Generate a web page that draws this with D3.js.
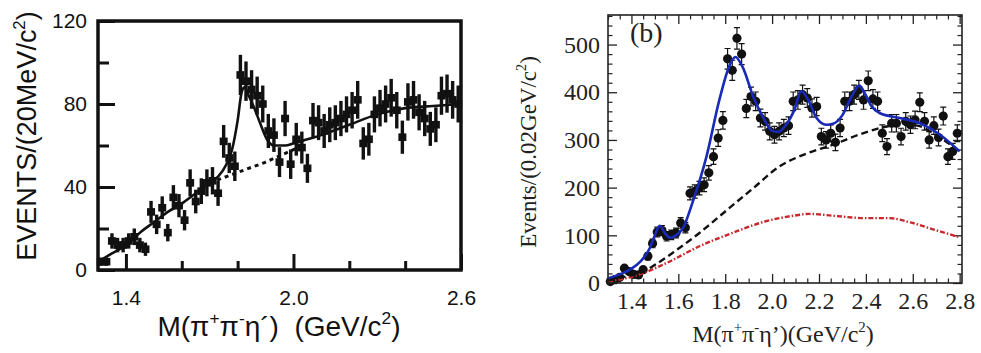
<!DOCTYPE html>
<html>
<head>
<meta charset="utf-8">
<script src="https://cdn.jsdelivr.net/npm/d3@7"></script>
<style>
  body { margin: 0; background: #fff; }
  svg { display: block; }
  text { white-space: pre; }
</style>
</head>
<body>
<div id="chart"></div>
<script>
// ---- panel (a): 20 MeV bins, first bin centre 1.31 ----
const binStartA = 1.31, binWidthA = 0.02;
const eventsA = [4,4,14,12,12,14,16,12,10,28, 22,30,18,35,31,24,42,33,38,42,
                 43,37,62,54,50,94,91,87,84,80, 67,65,52,73,51,63,59,49,72,71,
                 67,70,71,73,75,77,82,61,63,75, 78,80,83,77,64,81,82,76,73,68,
                 70,84,85,82,80];
const errorsA = [2,2,3.7,3.5,3.5,3.7,4,3.5,3.2,5.3, 4.7,5.5,4.2,5.9,5.6,4.9,6.5,5.7,6.2,6.5,
                 6.6,6.1,7.9,7.3,7.1,9.7,9.5,9.3,9.2,8.9, 8.2,8.1,7.2,8.5,7.1,7.9,7.7,7,8.5,8.4,
                 8.2,8.4,8.4,8.5,8.7,8.8,9.1,7.8,7.9,8.7, 8.8,8.9,9.1,8.8,8,9,9.1,8.7,8.5,8.2,
                 8.4,9.2,9.2,9.1,8.9];
// fit (solid) and background (dotted)
const fitMassA = [1.30,1.35,1.40,1.45,1.50,1.55,1.60,1.65,1.70,1.73,1.76,1.78,1.80,1.815,1.825,1.84,1.86,1.88,1.905,1.93,1.97,2.0,2.05,2.1,2.2,2.3,2.4,2.5,2.6];
const fitValA  = [4,8,12,18,23,28,32,37,42,45,51,58,72,86,88,84,78,71,63,60,60,61,63,65,70,75,78,79,80];
const bkgMassA = [1.70,1.75,1.80,1.85,1.90,1.95,2.00,2.03];
const bkgValA  = [42,44.5,47,49.5,52,55,58,60];
const xTicksA = [1.4, 2.0, 2.6], xMinorA = [1.6, 1.8, 2.2, 2.4];
const yTicksA = [0, 40, 80, 120], yMinorA = [20, 60, 100];

// ---- panel (b): 0.02 GeV bins, first bin centre 1.31 ----
const binStartB = 1.31, binWidthB = 0.02;
const eventsB = [3,7,12,31,24,18,17,28,56,83, 107,110,98,101,105,126,116,188,192,199,
                 206,231,265,304,341,470,446,513,480,366, 391,381,346,339,318,311,318,325,330,381,
                 384,395,388,367,370,307,300,314,295,325, 381,381,395,405,384,424,386,381,314,286,
                 335,335,307,339,332,342,379,339,300,330, 305,350,265,276,314];
const errorsB = [2,3,3.5,5.6,4.9,4.2,4.1,5.3,7.5,9.1, 10.3,10.5,9.9,10,10.2,11.2,10.8,13.7,13.9,14.1,
                 14.4,15.2,16.3,17.4,18.5,21.7,21.1,22.6,21.9,19.1, 19.8,19.5,18.6,18.4,17.8,17.6,17.8,18,18.2,19.5,
                 19.6,19.9,19.7,19.2,19.2,17.5,17.3,17.7,17.2,18, 19.5,19.5,19.9,20.1,19.6,20.6,19.6,19.5,17.7,16.9,
                 18.3,18.3,17.5,18.4,18.2,18.5,19.5,18.4,17.3,18.2, 17.5,18.7,16.3,16.6,17.7];
const fitMassB = [1.30,1.35,1.40,1.44,1.46,1.48,1.50,1.52,1.545,1.565,1.59,1.62,1.66,1.72,1.775,1.82,1.843,1.875,1.92,1.96,2.0,2.025,2.06,2.095,2.125,2.155,2.19,2.23,2.26,2.30,2.34,2.372,2.395,2.425,2.46,2.545,2.63,2.716,2.80];
const fitValB  = [10,18,30,46,58,75,100,120,103,95,100,115,168,265,384,458,474,452,390,349,319,317,332,363,402,383,346,332,334,352,392,414,398,370,356,346,335,311,276];
const bkgMassB = [1.30,1.36,1.40,1.45,1.50,1.575,1.69,1.80,1.92,2.03,2.15,2.26,2.37,2.47,2.55,2.62,2.70,2.80];
const bkgValB  = [5,12,16,24,38,63,105,150,199,244,272,290,311,326,332,330,310,276];
const redMassB = [1.30,1.43,1.55,1.69,1.83,1.97,2.09,2.16,2.26,2.40,2.50,2.59,2.69,2.80];
const redValB  = [3,17,42,77,105,129,141,145,141,136,136,127,112,96];
const xTicksB = [1.4,1.6,1.8,2.0,2.2,2.4,2.6,2.8];
const yTicksB = [0,100,200,300,400,500];

const svg = d3.select("#chart").append("svg")
    .attr("width", 981).attr("height", 353);

// text with superscripts, parts = [[string, "sup" or ""], ...]
function richText(sel, parts, fs) {
    let shift = 0;
    parts.forEach(([t, kind]) => {
        const target = kind === "sup" ? -fs * 0.42 : 0;
        sel.append("tspan")
            .attr("dy", target - shift)
            .style("font-size", (kind === "sup" ? fs * 0.62 : fs) + "px")
            .text(t);
        shift = target;
    });
}

function styleAxis(g, w, color, font, fs) {
    g.select(".domain").remove();
    g.selectAll(".tick line").attr("stroke", color).attr("stroke-width", w);
    g.selectAll("text").style("font-family", font).style("font-size", fs + "px").attr("fill", color);
}

// ================= panel (a) =================
const sansFont = "'Liberation Sans', Arial, Helvetica, sans-serif";
const xA = d3.scaleLinear().domain([1.3, 2.6]).range([98, 461]);
const yA = d3.scaleLinear().domain([0, 120]).range([270, 21]);
const gA = svg.append("g");

gA.append("g").attr("transform", "translate(0,270)")
    .call(d3.axisBottom(xA).tickValues(xTicksA).tickSize(-16).tickPadding(20).tickFormat(d3.format(".1f")))
    .call(g => styleAxis(g, 3, "#111", sansFont, 21));
gA.append("g").attr("transform", "translate(0,270)")
    .call(d3.axisBottom(xA).tickValues(xMinorA).tickSize(-9).tickFormat(""))
    .call(g => styleAxis(g, 3, "#111", sansFont, 21));
gA.append("g").attr("transform", "translate(98,0)")
    .call(d3.axisLeft(yA).tickValues(yTicksA).tickSize(-17).tickPadding(11))
    .call(g => styleAxis(g, 3, "#111", sansFont, 21));
gA.append("g").attr("transform", "translate(98,0)")
    .call(d3.axisLeft(yA).tickValues(yMinorA).tickSize(-11).tickFormat(""))
    .call(g => styleAxis(g, 3, "#111", sansFont, 21));

const dataA = eventsA.map((v, i) => ({ m: binStartA + i * binWidthA, v: v, e: errorsA[i] }));

// curves
const lineA = d3.line().x(d => xA(d[0])).y(d => yA(d[1])).curve(d3.curveMonotoneX);
gA.append("path").datum(bkgMassA.map((m, i) => [m, bkgValA[i]]))
    .attr("d", lineA).attr("fill", "none").attr("stroke", "#111")
    .attr("stroke-width", 3).attr("stroke-dasharray", "4,4");
gA.append("path").datum(fitMassA.map((m, i) => [m, fitValA[i]]))
    .attr("d", lineA).attr("fill", "none").attr("stroke", "#111").attr("stroke-width", 2.6);

// data points: thick error bar + square
gA.selectAll(".errA").data(dataA).join("line").attr("class", "errA")
    .attr("x1", d => xA(d.m)).attr("x2", d => xA(d.m))
    .attr("y1", d => yA(Math.max(0, d.v - d.e))).attr("y2", d => yA(d.v + d.e))
    .attr("stroke", "#111").attr("stroke-width", 3.4);
gA.selectAll(".ptA").data(dataA).join("rect").attr("class", "ptA")
    .attr("x", d => xA(d.m) - 4).attr("y", d => yA(d.v) - 3.8)
    .attr("width", 8).attr("height", 7.6).attr("fill", "#111");

gA.append("rect").attr("x", 98).attr("y", 21).attr("width", 363).attr("height", 249)
    .attr("fill", "none").attr("stroke", "#111").attr("stroke-width", 3.5);

// axis titles
const yTitleA = gA.append("text").attr("transform", "translate(36,136) rotate(-90)")
    .attr("text-anchor", "middle").style("font-family", sansFont).attr("fill", "#111");
richText(yTitleA, [["EVENTS/(20MeV/c", ""], ["2", "sup"], [")", ""]], 27);
const xTitleA = gA.append("text").attr("x", 279).attr("y", 336)
    .attr("text-anchor", "middle").style("font-family", sansFont).attr("fill", "#111");
richText(xTitleA, [["M(\u03c0", ""], ["+", "sup"], ["\u03c0", ""], ["-", "sup"], ["\u03b7\u00b4)  (GeV/c", ""], ["2", "sup"], [")", ""]], 28);

// ================= panel (b) =================
const serifFont = "'Liberation Serif', 'Times New Roman', serif";
const xB = d3.scaleLinear().domain([1.3, 2.81]).range([608, 962]);
const yB = d3.scaleLinear().domain([0, 562]).range([283, 15]);
const gB = svg.append("g");
const xMinorB = d3.range(1.3, 2.81, 0.05).filter(v => Math.abs(v * 5 - Math.round(v * 5)) > 1e-6);
const yMinorB = d3.range(20, 562, 20).filter(v => v % 100 !== 0);

[[d3.axisBottom, 283, true], [d3.axisTop, 15, false]].forEach(([ax, ty, lab]) => {
    gB.append("g").attr("transform", `translate(0,${ty})`)
        .call(ax(xB).tickValues(xTicksB).tickSize(-9).tickPadding(9).tickFormat(lab ? d3.format(".1f") : ""))
        .call(g => styleAxis(g, 1.3, "#222", serifFont, 24));
    gB.append("g").attr("transform", `translate(0,${ty})`)
        .call(ax(xB).tickValues(xMinorB).tickSize(-4.5).tickFormat(""))
        .call(g => styleAxis(g, 1.2, "#222", serifFont, 24));
});
[[d3.axisLeft, 608, true], [d3.axisRight, 962, false]].forEach(([ax, tx, lab]) => {
    gB.append("g").attr("transform", `translate(${tx},0)`)
        .call(ax(yB).tickValues(yTicksB).tickSize(-9).tickPadding(8).tickFormat(lab ? d3.format("d") : ""))
        .call(g => styleAxis(g, 1.3, "#222", serifFont, 24));
    gB.append("g").attr("transform", `translate(${tx},0)`)
        .call(ax(yB).tickValues(yMinorB).tickSize(-4.5).tickFormat(""))
        .call(g => styleAxis(g, 1.2, "#222", serifFont, 24));
});

const dataB = eventsB.map((v, i) => ({ m: binStartB + i * binWidthB, v: v, e: errorsB[i] }));

// error bars with caps, then filled circles
gB.selectAll(".errB").data(dataB).join("path").attr("class", "errB")
    .attr("d", d => {
        const x = xB(d.m), y1 = yB(Math.max(0, d.v - d.e)), y2 = yB(d.v + d.e);
        return `M${x},${y1}V${y2}M${x - 3},${y1}H${x + 3}M${x - 3},${y2}H${x + 3}`;
    })
    .attr("fill", "none").attr("stroke", "#111").attr("stroke-width", 1.2);
gB.selectAll(".ptB").data(dataB).join("circle").attr("class", "ptB")
    .attr("cx", d => xB(d.m)).attr("cy", d => yB(d.v)).attr("r", 4.6).attr("fill", "#111");

const lineB = d3.line().x(d => xB(d[0])).y(d => yB(d[1])).curve(d3.curveMonotoneX);
gB.append("path").datum(redMassB.map((m, i) => [m, redValB[i]]))
    .attr("d", lineB).attr("fill", "none").attr("stroke", "#c8282c")
    .attr("stroke-width", 2.4).attr("stroke-dasharray", "5,2,1.5,2");
gB.append("path").datum(bkgMassB.map((m, i) => [m, bkgValB[i]]))
    .attr("d", lineB).attr("fill", "none").attr("stroke", "#111")
    .attr("stroke-width", 2.4).attr("stroke-dasharray", "7,4");
gB.append("path").datum(fitMassB.map((m, i) => [m, fitValB[i]]))
    .attr("d", lineB).attr("fill", "none").attr("stroke", "#1a2ab8").attr("stroke-width", 2.6);

gB.append("rect").attr("x", 608).attr("y", 15).attr("width", 354).attr("height", 268)
    .attr("fill", "none").attr("stroke", "#222").attr("stroke-width", 1.6);

gB.append("text").attr("x", 630).attr("y", 42)
    .style("font-family", serifFont).style("font-size", "28px").attr("fill", "#222").text("(b)");

const yTitleB = gB.append("text").attr("transform", "translate(536,152) rotate(-90)")
    .attr("text-anchor", "middle").style("font-family", serifFont).attr("fill", "#222");
richText(yTitleB, [["Events/(0.02GeV/c", ""], ["2", "sup"], [")", ""]], 23);
const xTitleB = gB.append("text").attr("x", 783).attr("y", 342)
    .attr("text-anchor", "middle").style("font-family", serifFont).attr("fill", "#222");
richText(xTitleB, [["M(\u03c0", ""], ["+", "sup"], ["\u03c0", ""], ["-", "sup"], ["\u03b7\u2019)(GeV/c", ""], ["2", "sup"], [")", ""]], 24);
</script>
</body>
</html>
